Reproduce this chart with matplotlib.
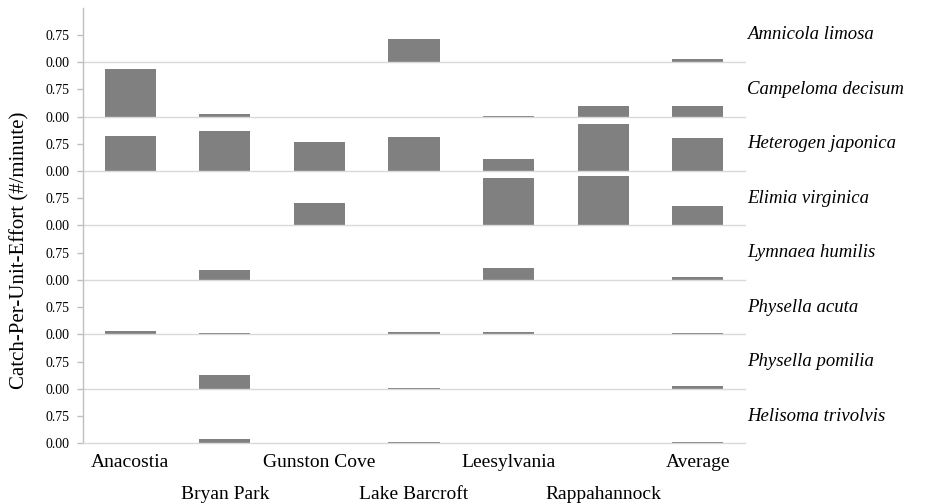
import matplotlib
matplotlib.use("Agg")
import matplotlib.pyplot as plt

plt.rcParams['font.family'] = ['Liberation Serif', 'DejaVu Serif']

sites = ["Anacostia", "Bryan Park", "Gunston Cove", "Lake Barcroft",
         "Leesylvania", "Rappahannock", "Average"]
species = ["Amnicola limosa", "Campeloma decisum", "Heterogen japonica",
           "Elimia virginica", "Lymnaea humilis", "Physella acuta",
           "Physella pomilia", "Helisoma trivolvis"]

amnicola_limosa    = [0.00, 0.00, 0.00, 0.63, 0.00, 0.00, 0.08]
campeloma_decisum  = [1.31, 0.08, 0.00, 0.00, 0.02, 0.28, 0.28]
heterogen_japonica = [0.97, 1.11, 0.81, 0.93, 0.32, 1.29, 0.91]
elimia_virginica   = [0.00, 0.00, 0.63, 0.00, 1.31, 1.36, 0.53]
lymnaea_humilis    = [0.00, 0.28, 0.00, 0.00, 0.32, 0.00, 0.09]
physella_acuta     = [0.08, 0.05, 0.00, 0.07, 0.06, 0.00, 0.05]
physella_pomilia   = [0.00, 0.37, 0.00, 0.01, 0.00, 0.00, 0.07]
helisoma_trivolvis = [0.00, 0.11, 0.00, 0.04, 0.00, 0.00, 0.04]

row_values = [amnicola_limosa, campeloma_decisum, heterogen_japonica,
              elimia_virginica, lymnaea_humilis, physella_acuta,
              physella_pomilia, helisoma_trivolvis]
row_ticks = [0.00, 0.75]
row_tick_labels = ["0.00", "0.75"]
y_max = 1.5
y_label = "Catch-Per-Unit-Effort (#/minute)"

W, H = 926, 504
fig = plt.figure(figsize=(W / 100, H / 100), dpi=100)

left = 83 / W
right = 745 / W
bottom = 1 - 443.3 / H
top = 1 - 7.6 / H
rh = (top - bottom) / len(species)

bar_color = '#808080'
grid_color = '#d9d9d9'
spine_color = '#bfbfbf'

x = list(range(len(sites)))
for i, (name, vals) in enumerate(zip(species, row_values)):
    ax = fig.add_axes([left, top - (i + 1) * rh, right - left, rh])
    ax.bar(x, vals, width=0.54, color=bar_color, linewidth=0)
    ax.set_xlim(-0.5, len(sites) - 0.5)
    ax.set_ylim(0, y_max)
    ax.patch.set_alpha(0)
    for s in ('top', 'right'):
        ax.spines[s].set_visible(False)
    ax.spines['bottom'].set_color(grid_color)
    ax.spines['bottom'].set_linewidth(1.0)
    ax.spines['left'].set_color(spine_color)
    ax.spines['left'].set_linewidth(1.0)
    ax.set_yticks(row_ticks)
    ax.set_yticklabels(row_tick_labels, fontsize=10)
    ax.tick_params(axis='y', direction='out', length=4, color=spine_color,
                   pad=6, width=1.0)
    ax.text(1.003, 0.5, name, transform=ax.transAxes, style='italic',
            fontsize=13.5, va='center', ha='left')
    if i < len(species) - 1:
        ax.set_xticks([])
    else:
        ax.set_xticks(x[0::2])
        ax.set_xticklabels(sites[0::2], fontsize=14)
        ax.set_xticks(x[1::2], minor=True)
        ax.set_xticklabels(sites[1::2], minor=True, fontsize=14)
        ax.tick_params(axis='x', which='major', length=0, pad=8)
        ax.tick_params(axis='x', which='minor', length=0, pad=31)

fig.text(20 / W, 1 - 250 / H, y_label, rotation=90, fontsize=15,
         va='center', ha='center')

fig.savefig("out.png", dpi=100)
